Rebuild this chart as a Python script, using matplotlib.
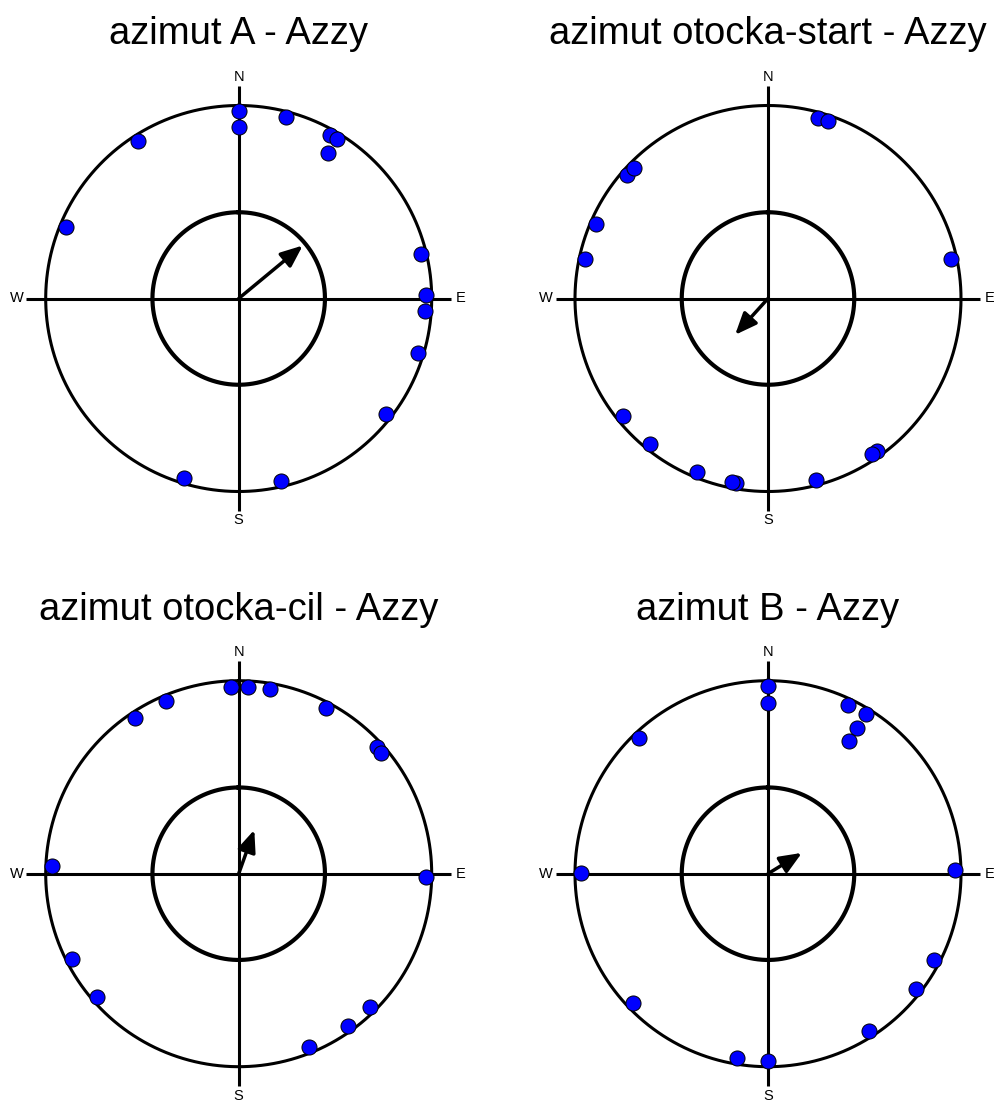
import numpy as np
import matplotlib
matplotlib.use("Agg")
import matplotlib.pyplot as plt

plt.rcParams['font.family'] = ['Liberation Sans', 'DejaVu Sans']

# azimuths in degrees, clockwise from north
azimut_a = [0, 0, 14.6, 29.3, 31.6, 31.6, 76.4, 88.9, 93.9, 106.9, 127.9,
            166.9, 196.9, 292.4, 327.4]
azimut_start = [15.4, 18.7, 77.8, 144.3, 146.4, 165.3, 189.9, 191.1, 202.2,
                218.9, 231.0, 282.1, 293.5, 311.1, 314.3]
azimut_cil = [357.7, 2.9, 9.7, 27.7, 47.5, 49.7, 90.9, 135.4, 144.3, 158.1,
              229.0, 242.8, 272.4, 326.2, 337.1]
azimut_b = [0, 0, 25.4, 31.4, 31.4, 31.4, 88.9, 117.3, 128.0, 147.4, 180,
            189.4, 226.2, 270.3, 316.4]

titles = ["azimut A - Azzy", "azimut otocka-start - Azzy",
          "azimut otocka-cil - Azzy", "azimut B - Azzy"]
series = [azimut_a, azimut_start, azimut_cil, azimut_b]
compass = ["N", "E", "S", "W"]

W, H = 994, 1104
RAD = 193.0      # px for r = 1
RMAX = 1.2
centers = [(238.7, 298.5), (768.0, 298.5), (238.7, 873.7), (768.0, 873.7)]


def stacked_radii(vals, r0=0.97, step=0.083):
    seen = {}
    out = []
    for v in vals:
        k = seen.get(v, 0)
        seen[v] = k + 1
        out.append(r0 - k * step)
    return np.array(out)


def draw_circ(ax, vals, title):
    ax.set_theta_zero_location('N')
    ax.set_theta_direction(-1)
    ax.set_ylim(0, RMAX)
    ax.set_axis_off()

    ring = np.linspace(0, 2 * np.pi, 400)
    ax.plot(ring, np.ones_like(ring), color='black', lw=2.2)

    # Rayleigh critical radius (p = 0.05)
    n = len(vals)
    crit = np.sqrt(-np.log(0.05) / n)
    ax.plot(ring, np.full_like(ring, crit), color='black', lw=3.0)

    for i, lab in enumerate(compass):
        t = np.radians(90 * i)
        ax.plot([t, t], [0, 1.1], color='black', lw=2.2, solid_capstyle='butt')
        ax.text(t, 1.15, lab, ha='center', va='center', fontsize=10.5)

    th = np.radians(vals)
    ax.scatter(th, stacked_radii(vals), s=118, c='#0000ff',
               edgecolors='black', linewidths=0.7, zorder=3, clip_on=False)

    # mean resultant vector
    c, s = np.mean(np.cos(th)), np.mean(np.sin(th))
    mu, rbar = np.arctan2(s, c), np.hypot(c, s)
    ax.annotate('', xy=(mu, rbar), xytext=(0, 0),
                arrowprops=dict(arrowstyle='-|>,head_length=0.6,head_width=0.25',
                                color='black', lw=2.5,
                                mutation_scale=22, shrinkA=0, shrinkB=0),
                zorder=4)

    ax.text(0, 1.317, title, ha='center', va='baseline', fontsize=27.5)


fig = plt.figure(figsize=(W / 100, H / 100), dpi=100)
half = RMAX * RAD
for (cx, cy), vals, title in zip(centers, series, titles):
    ax = fig.add_axes([(cx - half) / W, (H - cy - half) / H,
                       2 * half / W, 2 * half / H], projection='polar')
    draw_circ(ax, vals, title)

fig.savefig('out.png', dpi=100)
